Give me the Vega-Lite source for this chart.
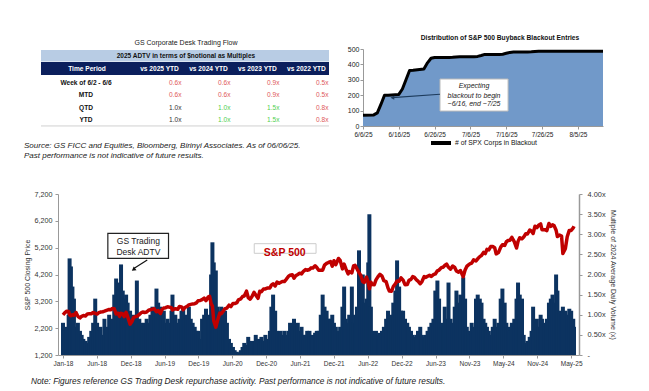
{
  "$schema": "https://vega.github.io/schema/vega-lite/v6.json",
  "background": "white",
  "padding": {"left": 23, "top": 35, "right": 4, "bottom": 2},
  "config": {
    "font": "Liberation Sans",
    "view": {"stroke": null},
    "axis": {"grid": false, "labelColor": "#333333", "titleColor": "#333333", "domainColor": "#999999", "tickColor": "#999999", "titleFontWeight": "normal", "labelFont": "Liberation Sans", "titleFont": "Liberation Sans"},
    "title": {"font": "Liberation Sans", "color": "#111111"},
    "legend": {"labelFont": "Liberation Sans"}
  },
  "bounds": "flush",
  "spacing": 145,
  "vconcat": [
    {
      "bounds": "flush",
      "spacing": 24,
      "hconcat": [
        {
          "width": 281,
          "height": 77,
          "title": {"text": "GS Corporate Desk Trading Flow", "fontSize": 7, "fontWeight": "normal", "frame": "group", "anchor": "middle", "dx": -12.5, "offset": 3, "color": "#222222"},
          "layer": [
            {
              "data": {"values": [{}]},
              "mark": {"type": "rect", "color": "#b8cce4"},
              "encoding": {
                "x": {"datum": -1.388, "type": "quantitative", "scale": {"domain": [-1.041, 4.694], "nice": false, "zero": false}, "axis": null},
                "x2": {"datum": 4.49},
                "y": {"datum": -2.65, "type": "quantitative", "scale": {"domain": [-2.731, 3.454], "nice": false, "zero": false, "reverse": true}, "axis": null},
                "y2": {"datum": -1.72}
              }
            },
            {
              "data": {"values": [{}]},
              "mark": {"type": "rect", "color": "#0b1f5c"},
              "encoding": {
                "x": {"datum": -1.388, "type": "quantitative", "axis": null},
                "x2": {"datum": 4.49},
                "y": {"datum": -1.68, "type": "quantitative", "axis": null},
                "y2": {"datum": -0.64}
              }
            },
            {
              "data": {"values": [{}]},
              "mark": {"type": "rule", "color": "#d0d0d0", "strokeWidth": 1},
              "encoding": {
                "x": {"datum": -1.388, "type": "quantitative", "axis": null},
                "x2": {"datum": 4.49},
                "y": {"datum": 3.45, "type": "quantitative", "axis": null}
              }
            },
            {
              "data": {"values": [{}]},
              "mark": {"type": "text", "fontSize": 6.5, "fontWeight": "bold", "color": "#111111", "baseline": "middle", "align": "center"},
              "encoding": {
                "x": {"datum": 1.57, "type": "quantitative", "axis": null},
                "y": {"datum": -2.2, "type": "quantitative", "axis": null},
                "text": {"value": "2025 ADTV in terms of $notional as Multiples"}
              }
            },
            {
              "data": {"values": [{}]},
              "mark": {"type": "text", "fontSize": 6.6, "fontWeight": "bold", "color": "white", "baseline": "middle", "align": "center"},
              "encoding": {
                "x": {"datum": -0.449, "type": "quantitative", "axis": null},
                "y": {"datum": -1.15, "type": "quantitative", "axis": null},
                "text": {"value": "Time Period"}
              }
            },
            {
              "data": {"values": [
                {"c": 1, "h": "vs 2025 YTD"},
                {"c": 2, "h": "vs 2024 YTD"},
                {"c": 3, "h": "vs 2023 YTD"},
                {"c": 4, "h": "vs 2022 YTD"}
              ]},
              "mark": {"type": "text", "fontSize": 6.6, "fontWeight": "bold", "color": "white", "baseline": "middle", "align": "center", "dx": 1.5},
              "encoding": {
                "x": {"field": "c", "type": "quantitative", "axis": null},
                "y": {"datum": -1.15, "type": "quantitative", "axis": null},
                "text": {"field": "h"}
              }
            },
            {
              "data": {"values": [
                {"r": 0, "t": "Week of 6/2 - 6/6"},
                {"r": 1, "t": "MTD"},
                {"r": 2, "t": "QTD"},
                {"r": 3, "t": "YTD"}
              ]},
              "mark": {"type": "text", "fontSize": 6.6, "fontWeight": "bold", "color": "#111111", "baseline": "middle", "align": "center"},
              "encoding": {
                "x": {"datum": -0.47, "type": "quantitative", "axis": null},
                "y": {"field": "r", "type": "quantitative", "axis": null},
                "text": {"field": "t"}
              }
            },
            {
              "data": {"values": [
                {"r": 0, "c": 1, "v": "0.6x", "s": "down"},
                {"r": 0, "c": 2, "v": "0.6x", "s": "down"},
                {"r": 0, "c": 3, "v": "0.9x", "s": "down"},
                {"r": 0, "c": 4, "v": "0.5x", "s": "down"},
                {"r": 1, "c": 1, "v": "0.6x", "s": "down"},
                {"r": 1, "c": 2, "v": "0.6x", "s": "down"},
                {"r": 1, "c": 3, "v": "0.9x", "s": "down"},
                {"r": 1, "c": 4, "v": "0.5x", "s": "down"},
                {"r": 2, "c": 1, "v": "1.0x", "s": "base"},
                {"r": 2, "c": 2, "v": "1.0x", "s": "up"},
                {"r": 2, "c": 3, "v": "1.5x", "s": "up"},
                {"r": 2, "c": 4, "v": "0.8x", "s": "down"},
                {"r": 3, "c": 1, "v": "1.0x", "s": "base"},
                {"r": 3, "c": 2, "v": "1.0x", "s": "up"},
                {"r": 3, "c": 3, "v": "1.5x", "s": "up"},
                {"r": 3, "c": 4, "v": "0.8x", "s": "down"}
              ]},
              "mark": {"type": "text", "fontSize": 6.6, "baseline": "middle", "align": "right", "dx": 23.5},
              "encoding": {
                "x": {"field": "c", "type": "quantitative", "axis": null},
                "y": {"field": "r", "type": "quantitative", "axis": null},
                "text": {"field": "v"},
                "color": {"field": "s", "type": "nominal", "scale": {"domain": ["base", "up", "down"], "range": ["#333333", "#4fd04f", "#e05a5a"]}, "legend": null}
              }
            },
            {
              "data": {"values": [{}]},
              "mark": {"type": "text", "fontSize": 8, "fontStyle": "italic", "color": "#222222", "align": "left", "baseline": "top", "lineHeight": 10,
                "text": ["Source: GS FICC and Equities, Bloomberg, Birinyi Associates. As of 06/06/25.", "Past performance is not indicative of future results."]},
              "encoding": {
                "x": {"datum": -1.735, "type": "quantitative", "axis": null},
                "y": {"datum": 4.74, "type": "quantitative", "axis": null}
              }
            }
          ]
        },
        {
          "width": 240,
          "height": 77,
          "title": {"text": "Distribution of S&P 500 Buyback Blackout Entries", "fontSize": 6.7, "fontWeight": "bold", "frame": "group", "anchor": "middle", "dx": 17, "offset": 3},
          "data": {"values": [
            {"d": "2025/06/06", "n": 70}, {"d": "2025/06/09", "n": 72}, {"d": "2025/06/10", "n": 85},
            {"d": "2025/06/11", "n": 140}, {"d": "2025/06/12", "n": 200}, {"d": "2025/06/13", "n": 200},
            {"d": "2025/06/16", "n": 205}, {"d": "2025/06/17", "n": 240}, {"d": "2025/06/18", "n": 300},
            {"d": "2025/06/19", "n": 360}, {"d": "2025/06/20", "n": 362}, {"d": "2025/06/23", "n": 370},
            {"d": "2025/06/24", "n": 410}, {"d": "2025/06/25", "n": 440}, {"d": "2025/06/26", "n": 445},
            {"d": "2025/06/27", "n": 445}, {"d": "2025/06/30", "n": 445}, {"d": "2025/07/01", "n": 446},
            {"d": "2025/07/02", "n": 448}, {"d": "2025/07/03", "n": 450}, {"d": "2025/07/07", "n": 450},
            {"d": "2025/07/08", "n": 452}, {"d": "2025/07/09", "n": 458}, {"d": "2025/07/10", "n": 465},
            {"d": "2025/07/11", "n": 465}, {"d": "2025/07/14", "n": 465}, {"d": "2025/07/15", "n": 466},
            {"d": "2025/07/16", "n": 472}, {"d": "2025/07/17", "n": 478}, {"d": "2025/07/18", "n": 480},
            {"d": "2025/07/21", "n": 480}, {"d": "2025/07/22", "n": 481}, {"d": "2025/07/23", "n": 482},
            {"d": "2025/07/24", "n": 484}, {"d": "2025/07/25", "n": 485}, {"d": "2025/07/28", "n": 485},
            {"d": "2025/08/01", "n": 485}, {"d": "2025/08/08", "n": 485}, {"d": "2025/08/12", "n": 485}
          ]},
          "resolve": {"axis": {"x": "independent", "y": "independent"}},
          "layer": [
            {
              "mark": {"type": "area", "color": "#7199c9"},
              "encoding": {
                "x": {"field": "d", "type": "temporal",
                  "scale": {"domain": [{"year": 2025, "month": 6, "date": 6}, {"year": 2025, "month": 8, "date": 12}], "nice": false},
                  "axis": {"values": [{"year": 2025, "month": 6, "date": 6}, {"year": 2025, "month": 6, "date": 16}, {"year": 2025, "month": 6, "date": 26}, {"year": 2025, "month": 7, "date": 6}, {"year": 2025, "month": 7, "date": 16}, {"year": 2025, "month": 7, "date": 26}, {"year": 2025, "month": 8, "date": 5}],
                    "format": "%-m/%-d/%y", "title": null, "labelFontSize": 6.5, "labelColor": "#222222", "tickSize": 3, "labelPadding": 2, "labelFlush": false, "labelOverlap": false}},
                "y": {"field": "n", "type": "quantitative", "scale": {"domain": [0, 500], "nice": false},
                  "axis": {"values": [0, 100, 200, 300, 400, 500], "format": ".0f", "title": null, "labelFontSize": 7, "labelColor": "#222222", "tickSize": 3, "labelPadding": 1, "labelOverlap": false}}
              }
            },
            {
              "mark": {"type": "line", "strokeWidth": 3, "strokeJoin": "round"},
              "encoding": {
                "x": {"field": "d", "type": "temporal", "axis": null},
                "y": {"field": "n", "type": "quantitative", "axis": null},
                "stroke": {"datum": "# of SPX Corps in Blackout", "type": "nominal", "scale": {"range": ["#000000"]},
                  "legend": {"orient": "none", "legendX": 371, "legendY": 82, "title": null, "symbolType": "stroke", "symbolStrokeWidth": 4, "symbolSize": 400, "labelFontSize": 6.8, "labelColor": "#111111", "labelOffset": 2}}
              }
            },
            {
              "data": {"values": [{}]},
              "mark": {"type": "rect", "fill": "white", "stroke": "#bbbbbb", "strokeWidth": 1},
              "encoding": {
                "x": {"datum": {"year": 2025, "month": 6, "date": 27, "hours": 12}, "type": "temporal", "axis": null},
                "x2": {"datum": {"year": 2025, "month": 7, "date": 16, "hours": 12}},
                "y": {"datum": 305, "type": "quantitative", "axis": null},
                "y2": {"datum": 97}
              }
            },
            {
              "data": {"values": [{}]},
              "mark": {"type": "text", "fontSize": 7, "fontStyle": "italic", "color": "#222222", "align": "center", "baseline": "middle"},
              "encoding": {
                "x": {"datum": {"year": 2025, "month": 7, "date": 7}, "type": "temporal", "axis": null},
                "y": {"datum": 260, "type": "quantitative", "axis": null},
                "text": {"value": "Expecting"}
              }
            },
            {
              "data": {"values": [{}]},
              "mark": {"type": "text", "fontSize": 7, "fontStyle": "italic", "color": "#222222", "align": "center", "baseline": "middle"},
              "encoding": {
                "x": {"datum": {"year": 2025, "month": 7, "date": 7}, "type": "temporal", "axis": null},
                "y": {"datum": 198, "type": "quantitative", "axis": null},
                "text": {"value": "blackout to begin"}
              }
            },
            {
              "data": {"values": [{}]},
              "mark": {"type": "text", "fontSize": 7, "fontStyle": "italic", "color": "#222222", "align": "center", "baseline": "middle"},
              "encoding": {
                "x": {"datum": {"year": 2025, "month": 7, "date": 7}, "type": "temporal", "axis": null},
                "y": {"datum": 140, "type": "quantitative", "axis": null},
                "text": {"value": "~6/16, end ~7/25"}
              }
            },
            {
              "data": {"values": [{}]},
              "mark": {"type": "rule", "color": "#1d3b5c", "strokeWidth": 1.1},
              "encoding": {
                "x": {"datum": {"year": 2025, "month": 6, "date": 27, "hours": 12}, "type": "temporal", "axis": null},
                "x2": {"datum": {"year": 2025, "month": 6, "date": 14, "hours": 5}},
                "y": {"datum": 206, "type": "quantitative", "axis": null},
                "y2": {"datum": 184}
              }
            },
            {
              "data": {"values": [{}]},
              "mark": {"type": "point", "shape": "triangle-left", "filled": true, "color": "#1d3b5c", "size": 18, "opacity": 1},
              "encoding": {
                "x": {"datum": {"year": 2025, "month": 6, "date": 14, "hours": 5}, "type": "temporal", "axis": null},
                "y": {"datum": 184, "type": "quantitative", "axis": null}
              }
            }
          ]
        }
      ]
    },
    {
      "width": 521,
      "height": 161,
      "title": {"text": "Note: Figures reference GS Trading Desk repurchase activity. Past performance is not indicative of future results.", "orient": "bottom", "anchor": "start", "frame": "group", "dx": -27, "offset": 10, "fontSize": 8.3, "fontStyle": "italic", "fontWeight": "normal", "color": "#222222"},
      "data": {"values": [
        {"d": "2018/01/02", "p": 2695, "v": 0.8}, {"d": "2018/01/11", "p": 2767, "v": 0.6}, {"d": "2018/01/22", "p": 2833, "v": 0.7},
        {"d": "2018/02/01", "p": 2822, "v": 1.0}, {"d": "2018/02/06", "p": 2695, "v": 2.4}, {"d": "2018/02/13", "p": 2662, "v": 2.2},
        {"d": "2018/02/21", "p": 2701, "v": 1.7}, {"d": "2018/03/01", "p": 2678, "v": 1.4}, {"d": "2018/03/12", "p": 2783, "v": 0.7},
        {"d": "2018/03/22", "p": 2643, "v": 0.8}, {"d": "2018/04/02", "p": 2582, "v": 0.6}, {"d": "2018/04/11", "p": 2642, "v": 0.5},
        {"d": "2018/04/20", "p": 2670, "v": 0.4}, {"d": "2018/05/01", "p": 2655, "v": 0.35}, {"d": "2018/05/11", "p": 2728, "v": 0.3},
        {"d": "2018/05/21", "p": 2733, "v": 0.45}, {"d": "2018/06/01", "p": 2735, "v": 0.6}, {"d": "2018/06/11", "p": 2782, "v": 0.8},
        {"d": "2018/06/22", "p": 2755, "v": 1.4}, {"d": "2018/07/02", "p": 2726, "v": 0.8}, {"d": "2018/07/11", "p": 2775, "v": 0.6},
        {"d": "2018/07/20", "p": 2801, "v": 0.7}, {"d": "2018/08/01", "p": 2813, "v": 0.5}, {"d": "2018/08/10", "p": 2833, "v": 0.9},
        {"d": "2018/08/21", "p": 2863, "v": 0.7}, {"d": "2018/09/04", "p": 2897, "v": 1.0}, {"d": "2018/09/12", "p": 2888, "v": 0.8},
        {"d": "2018/09/21", "p": 2930, "v": 0.9}, {"d": "2018/10/01", "p": 2924, "v": 1.5}, {"d": "2018/10/11", "p": 2729, "v": 1.9},
        {"d": "2018/10/22", "p": 2756, "v": 1.7}, {"d": "2018/10/29", "p": 2641, "v": 1.8}, {"d": "2018/11/06", "p": 2756, "v": 2.25},
        {"d": "2018/11/15", "p": 2730, "v": 1.6}, {"d": "2018/11/23", "p": 2633, "v": 1.4}, {"d": "2018/12/03", "p": 2790, "v": 1.5},
        {"d": "2018/12/11", "p": 2637, "v": 1.3}, {"d": "2018/12/24", "p": 2351, "v": 1.1},
        {"d": "2019/01/03", "p": 2448, "v": 0.9}, {"d": "2019/01/11", "p": 2596, "v": 1.0}, {"d": "2019/01/22", "p": 2633, "v": 0.9},
        {"d": "2019/01/29", "p": 2640, "v": 1.85}, {"d": "2019/02/11", "p": 2709, "v": 0.9}, {"d": "2019/02/21", "p": 2775, "v": 0.8},
        {"d": "2019/03/01", "p": 2804, "v": 0.7}, {"d": "2019/03/11", "p": 2783, "v": 0.8}, {"d": "2019/03/22", "p": 2801, "v": 0.9},
        {"d": "2019/04/01", "p": 2867, "v": 0.8}, {"d": "2019/04/11", "p": 2888, "v": 1.0}, {"d": "2019/04/22", "p": 2908, "v": 1.2},
        {"d": "2019/05/01", "p": 2924, "v": 1.1}, {"d": "2019/05/13", "p": 2812, "v": 1.65}, {"d": "2019/05/22", "p": 2856, "v": 1.3},
        {"d": "2019/06/03", "p": 2744, "v": 1.2}, {"d": "2019/06/11", "p": 2885, "v": 1.0}, {"d": "2019/06/21", "p": 2950, "v": 1.1},
        {"d": "2019/07/01", "p": 2964, "v": 0.8}, {"d": "2019/07/11", "p": 2999, "v": 0.9}, {"d": "2019/07/22", "p": 2985, "v": 0.8},
        {"d": "2019/08/01", "p": 2953, "v": 1.1}, {"d": "2019/08/06", "p": 2881, "v": 1.5}, {"d": "2019/08/21", "p": 2924, "v": 1.0},
        {"d": "2019/09/03", "p": 2906, "v": 0.8}, {"d": "2019/09/12", "p": 3009, "v": 0.9}, {"d": "2019/09/23", "p": 2992, "v": 1.1},
        {"d": "2019/10/02", "p": 2887, "v": 1.2}, {"d": "2019/10/11", "p": 2970, "v": 0.9}, {"d": "2019/10/21", "p": 3006, "v": 1.0},
        {"d": "2019/11/01", "p": 3066, "v": 1.2}, {"d": "2019/11/11", "p": 3087, "v": 0.9}, {"d": "2019/11/21", "p": 3104, "v": 0.8},
        {"d": "2019/12/02", "p": 3113, "v": 0.7}, {"d": "2019/12/11", "p": 3142, "v": 0.6}, {"d": "2019/12/20", "p": 3221, "v": 0.6},
        {"d": "2019/12/31", "p": 3231, "v": 0.4},
        {"d": "2020/01/10", "p": 3265, "v": 0.9}, {"d": "2020/01/21", "p": 3321, "v": 1.0}, {"d": "2020/01/31", "p": 3226, "v": 1.15},
        {"d": "2020/02/11", "p": 3358, "v": 1.0}, {"d": "2020/02/19", "p": 3386, "v": 0.9}, {"d": "2020/02/27", "p": 3116, "v": 2.0},
        {"d": "2020/03/05", "p": 3024, "v": 2.8}, {"d": "2020/03/12", "p": 2481, "v": 2.3}, {"d": "2020/03/23", "p": 2237, "v": 2.1},
        {"d": "2020/04/01", "p": 2471, "v": 1.2}, {"d": "2020/04/13", "p": 2762, "v": 1.1}, {"d": "2020/04/21", "p": 2737, "v": 1.2},
        {"d": "2020/05/01", "p": 2831, "v": 1.0}, {"d": "2020/05/11", "p": 2930, "v": 1.1}, {"d": "2020/05/21", "p": 2949, "v": 0.8},
        {"d": "2020/06/01", "p": 3056, "v": 0.4}, {"d": "2020/06/11", "p": 3002, "v": 0.3}, {"d": "2020/06/22", "p": 3117, "v": 0.2},
        {"d": "2020/07/01", "p": 3116, "v": 0.12}, {"d": "2020/07/13", "p": 3155, "v": 0.08}, {"d": "2020/07/21", "p": 3257, "v": 0.05},
        {"d": "2020/08/03", "p": 3295, "v": 0.12}, {"d": "2020/08/12", "p": 3380, "v": 0.2}, {"d": "2020/08/21", "p": 3397, "v": 0.3},
        {"d": "2020/09/02", "p": 3580, "v": 0.25}, {"d": "2020/09/11", "p": 3341, "v": 0.45}, {"d": "2020/09/21", "p": 3281, "v": 0.3},
        {"d": "2020/10/01", "p": 3380, "v": 0.35}, {"d": "2020/10/12", "p": 3534, "v": 0.3}, {"d": "2020/10/21", "p": 3435, "v": 0.5},
        {"d": "2020/11/02", "p": 3310, "v": 0.4}, {"d": "2020/11/11", "p": 3573, "v": 0.3}, {"d": "2020/11/20", "p": 3558, "v": 0.45},
        {"d": "2020/12/01", "p": 3662, "v": 0.35}, {"d": "2020/12/11", "p": 3663, "v": 0.5}, {"d": "2020/12/21", "p": 3694, "v": 0.4},
        {"d": "2021/01/04", "p": 3700, "v": 0.6}, {"d": "2021/01/12", "p": 3801, "v": 1.2}, {"d": "2021/01/21", "p": 3853, "v": 1.5},
        {"d": "2021/02/01", "p": 3774, "v": 1.1}, {"d": "2021/02/11", "p": 3916, "v": 0.6}, {"d": "2021/02/22", "p": 3876, "v": 0.55},
        {"d": "2021/03/01", "p": 3901, "v": 0.6}, {"d": "2021/03/11", "p": 3939, "v": 0.5}, {"d": "2021/03/22", "p": 3940, "v": 0.6},
        {"d": "2021/04/01", "p": 4020, "v": 0.5}, {"d": "2021/04/12", "p": 4128, "v": 0.6}, {"d": "2021/04/21", "p": 4173, "v": 0.8},
        {"d": "2021/05/03", "p": 4192, "v": 0.7}, {"d": "2021/05/12", "p": 4063, "v": 0.9}, {"d": "2021/05/21", "p": 4156, "v": 0.7},
        {"d": "2021/06/01", "p": 4202, "v": 0.8}, {"d": "2021/06/11", "p": 4247, "v": 0.6}, {"d": "2021/06/21", "p": 4224, "v": 0.7},
        {"d": "2021/07/01", "p": 4320, "v": 0.5}, {"d": "2021/07/12", "p": 4384, "v": 0.5}, {"d": "2021/07/21", "p": 4359, "v": 0.6},
        {"d": "2021/08/02", "p": 4387, "v": 0.6}, {"d": "2021/08/11", "p": 4447, "v": 0.45}, {"d": "2021/08/20", "p": 4441, "v": 0.5},
        {"d": "2021/09/01", "p": 4524, "v": 0.55}, {"d": "2021/09/10", "p": 4458, "v": 0.6}, {"d": "2021/09/20", "p": 4358, "v": 0.6},
        {"d": "2021/10/01", "p": 4357, "v": 1.0}, {"d": "2021/10/11", "p": 4361, "v": 1.5}, {"d": "2021/10/21", "p": 4549, "v": 1.2},
        {"d": "2021/11/01", "p": 4614, "v": 1.1}, {"d": "2021/11/11", "p": 4649, "v": 0.9}, {"d": "2021/11/22", "p": 4682, "v": 0.9},
        {"d": "2021/12/01", "p": 4513, "v": 1.0}, {"d": "2021/12/10", "p": 4712, "v": 0.8}, {"d": "2021/12/20", "p": 4568, "v": 0.7},
        {"d": "2022/01/03", "p": 4797, "v": 0.6}, {"d": "2022/01/12", "p": 4726, "v": 0.7}, {"d": "2022/01/24", "p": 4410, "v": 1.2},
        {"d": "2022/02/02", "p": 4589, "v": 1.7}, {"d": "2022/02/11", "p": 4419, "v": 0.9}, {"d": "2022/02/23", "p": 4225, "v": 0.8},
        {"d": "2022/03/01", "p": 4306, "v": 1.0}, {"d": "2022/03/15", "p": 4262, "v": 1.7}, {"d": "2022/03/24", "p": 4520, "v": 0.8},
        {"d": "2022/04/01", "p": 4546, "v": 1.0}, {"d": "2022/04/11", "p": 4413, "v": 1.2}, {"d": "2022/04/22", "p": 4272, "v": 2.6},
        {"d": "2022/05/02", "p": 4155, "v": 1.5}, {"d": "2022/05/12", "p": 3930, "v": 2.0}, {"d": "2022/05/20", "p": 3901, "v": 1.3},
        {"d": "2022/06/01", "p": 4101, "v": 1.4}, {"d": "2022/06/10", "p": 3901, "v": 2.3}, {"d": "2022/06/16", "p": 3667, "v": 3.5},
        {"d": "2022/06/24", "p": 3912, "v": 1.2}, {"d": "2022/07/01", "p": 3825, "v": 0.6}, {"d": "2022/07/12", "p": 3819, "v": 0.5},
        {"d": "2022/07/21", "p": 3999, "v": 0.6}, {"d": "2022/08/01", "p": 4119, "v": 0.5}, {"d": "2022/08/11", "p": 4207, "v": 0.55},
        {"d": "2022/08/22", "p": 4138, "v": 0.6}, {"d": "2022/09/01", "p": 3967, "v": 0.7}, {"d": "2022/09/13", "p": 3933, "v": 0.9},
        {"d": "2022/09/23", "p": 3693, "v": 1.1}, {"d": "2022/09/30", "p": 3586, "v": 0.9}, {"d": "2022/10/12", "p": 3577, "v": 1.0},
        {"d": "2022/10/21", "p": 3753, "v": 1.3}, {"d": "2022/11/01", "p": 3856, "v": 1.6}, {"d": "2022/11/10", "p": 3956, "v": 2.35},
        {"d": "2022/11/21", "p": 3950, "v": 1.7}, {"d": "2022/12/01", "p": 4077, "v": 1.1}, {"d": "2022/12/12", "p": 3990, "v": 1.1},
        {"d": "2022/12/22", "p": 3822, "v": 0.9},
        {"d": "2023/01/03", "p": 3825, "v": 0.8}, {"d": "2023/01/12", "p": 3983, "v": 0.7}, {"d": "2023/01/23", "p": 4020, "v": 0.6},
        {"d": "2023/02/01", "p": 4119, "v": 0.5}, {"d": "2023/02/10", "p": 4090, "v": 0.45}, {"d": "2023/02/21", "p": 3997, "v": 0.5},
        {"d": "2023/03/01", "p": 3951, "v": 0.6}, {"d": "2023/03/13", "p": 3855, "v": 0.7}, {"d": "2023/03/22", "p": 3937, "v": 0.5},
        {"d": "2023/04/03", "p": 4124, "v": 0.45}, {"d": "2023/04/12", "p": 4092, "v": 0.5}, {"d": "2023/04/21", "p": 4133, "v": 0.6},
        {"d": "2023/05/01", "p": 4168, "v": 0.7}, {"d": "2023/05/11", "p": 4130, "v": 0.8}, {"d": "2023/05/22", "p": 4192, "v": 0.9},
        {"d": "2023/06/01", "p": 4221, "v": 1.6}, {"d": "2023/06/12", "p": 4338, "v": 1.85}, {"d": "2023/06/21", "p": 4366, "v": 1.4},
        {"d": "2023/07/03", "p": 4455, "v": 0.8}, {"d": "2023/07/12", "p": 4472, "v": 0.7}, {"d": "2023/07/21", "p": 4536, "v": 1.2},
        {"d": "2023/07/31", "p": 4589, "v": 0.9}, {"d": "2023/08/10", "p": 4468, "v": 1.8}, {"d": "2023/08/21", "p": 4399, "v": 0.9},
        {"d": "2023/09/01", "p": 4516, "v": 0.8}, {"d": "2023/09/12", "p": 4462, "v": 1.2}, {"d": "2023/09/21", "p": 4330, "v": 1.6},
        {"d": "2023/10/02", "p": 4288, "v": 1.3}, {"d": "2023/10/12", "p": 4349, "v": 1.5}, {"d": "2023/10/27", "p": 4117, "v": 1.93},
        {"d": "2023/11/06", "p": 4365, "v": 1.4}, {"d": "2023/11/15", "p": 4502, "v": 0.7}, {"d": "2023/11/24", "p": 4559, "v": 0.6},
        {"d": "2023/12/01", "p": 4594, "v": 0.5}, {"d": "2023/12/11", "p": 4622, "v": 0.8}, {"d": "2023/12/21", "p": 4746, "v": 0.7},
        {"d": "2024/01/03", "p": 4705, "v": 1.4}, {"d": "2024/01/12", "p": 4784, "v": 1.5}, {"d": "2024/01/23", "p": 4865, "v": 1.4},
        {"d": "2024/02/01", "p": 4906, "v": 1.3}, {"d": "2024/02/12", "p": 5022, "v": 0.9}, {"d": "2024/02/21", "p": 4981, "v": 0.8},
        {"d": "2024/03/01", "p": 5137, "v": 0.7}, {"d": "2024/03/11", "p": 5118, "v": 0.6}, {"d": "2024/03/21", "p": 5241, "v": 0.5},
        {"d": "2024/04/01", "p": 5243, "v": 0.7}, {"d": "2024/04/11", "p": 5199, "v": 0.9}, {"d": "2024/04/19", "p": 4967, "v": 0.7},
        {"d": "2024/05/01", "p": 5018, "v": 0.8}, {"d": "2024/05/13", "p": 5221, "v": 1.4}, {"d": "2024/05/22", "p": 5307, "v": 1.65},
        {"d": "2024/06/03", "p": 5283, "v": 1.3}, {"d": "2024/06/12", "p": 5421, "v": 0.8}, {"d": "2024/06/21", "p": 5465, "v": 0.7},
        {"d": "2024/07/01", "p": 5475, "v": 0.6}, {"d": "2024/07/11", "p": 5585, "v": 0.8}, {"d": "2024/07/24", "p": 5427, "v": 0.9},
        {"d": "2024/08/05", "p": 5186, "v": 1.4}, {"d": "2024/08/13", "p": 5434, "v": 1.8}, {"d": "2024/08/22", "p": 5571, "v": 1.5},
        {"d": "2024/09/03", "p": 5529, "v": 1.4}, {"d": "2024/09/12", "p": 5595, "v": 0.5}, {"d": "2024/09/23", "p": 5718, "v": 0.3},
        {"d": "2024/10/02", "p": 5709, "v": 0.35}, {"d": "2024/10/14", "p": 5859, "v": 0.45}, {"d": "2024/10/24", "p": 5810, "v": 0.6},
        {"d": "2024/11/01", "p": 5728, "v": 1.2}, {"d": "2024/11/11", "p": 6001, "v": 0.8}, {"d": "2024/11/21", "p": 5949, "v": 0.9},
        {"d": "2024/12/02", "p": 6047, "v": 0.7}, {"d": "2024/12/11", "p": 6084, "v": 1.0}, {"d": "2024/12/18", "p": 5872, "v": 0.9},
        {"d": "2025/01/02", "p": 5869, "v": 0.8}, {"d": "2025/01/13", "p": 5836, "v": 0.9}, {"d": "2025/01/24", "p": 6101, "v": 1.3},
        {"d": "2025/02/03", "p": 5994, "v": 1.4}, {"d": "2025/02/12", "p": 6051, "v": 1.5}, {"d": "2025/02/21", "p": 6013, "v": 1.3},
        {"d": "2025/03/03", "p": 5849, "v": 2.0}, {"d": "2025/03/10", "p": 5615, "v": 1.6}, {"d": "2025/03/21", "p": 5668, "v": 1.1},
        {"d": "2025/04/01", "p": 5633, "v": 1.0}, {"d": "2025/04/08", "p": 4982, "v": 1.2}, {"d": "2025/04/21", "p": 5158, "v": 1.1},
        {"d": "2025/05/01", "p": 5604, "v": 1.0}, {"d": "2025/05/12", "p": 5844, "v": 1.15}, {"d": "2025/05/22", "p": 5842, "v": 1.1},
        {"d": "2025/06/02", "p": 5936, "v": 0.9}, {"d": "2025/06/06", "p": 6000, "v": 0.7}
      ]},
      "resolve": {"scale": {"y": "independent"}, "axis": {"x": "independent", "y": "independent"}},
      "layer": [
        {
          "mark": {"type": "bar", "size": 4, "color": "#0c3360"},
          "encoding": {
            "x": {"field": "d", "type": "temporal",
              "scale": {"domain": [{"year": 2018, "month": 1, "date": 2}, {"year": 2025, "month": 6, "date": 6}], "nice": false},
              "axis": {"values": [
                {"year": 2018, "month": 1, "date": 2}, {"year": 2018, "month": 6, "date": 30}, {"year": 2018, "month": 12, "date": 27},
                {"year": 2019, "month": 6, "date": 25}, {"year": 2019, "month": 12, "date": 21}, {"year": 2020, "month": 6, "date": 18},
                {"year": 2020, "month": 12, "date": 15}, {"year": 2021, "month": 6, "date": 13}, {"year": 2021, "month": 12, "date": 9},
                {"year": 2022, "month": 6, "date": 7}, {"year": 2022, "month": 12, "date": 4}, {"year": 2023, "month": 6, "date": 2},
                {"year": 2023, "month": 11, "date": 29}, {"year": 2024, "month": 5, "date": 27}, {"year": 2024, "month": 11, "date": 23},
                {"year": 2025, "month": 5, "date": 22}],
                "format": "%b-%y", "title": null, "labelFontSize": 6.5, "tickSize": 3, "labelPadding": 2, "labelFlush": false, "labelOverlap": false}},
            "y": {"field": "v", "type": "quantitative", "scale": {"domain": [0, 4], "nice": false},
              "axis": {"orient": "right", "values": [0, 0.5, 1, 1.5, 2, 2.5, 3, 3.5, 4],
                "labelExpr": "datum.value == 0 ? '-' : format(datum.value, '.2f') + 'x'",
                "title": "Multiple of 2024 Average Daily Volume (x)", "titleFontSize": 7, "labelFontSize": 7.4,
                "tickSize": 3, "labelPadding": 5, "titlePadding": 4, "domainWidth": 1.5, "labelOverlap": false}}
          }
        },
        {
          "resolve": {"axis": {"x": "independent", "y": "independent"}},
          "layer": [
            {
              "mark": {"type": "line", "color": "#c00000", "strokeWidth": 3.5, "strokeJoin": "round"},
              "encoding": {
                "x": {"field": "d", "type": "temporal", "axis": null},
                "y": {"field": "p", "type": "quantitative", "scale": {"domain": [1200, 7200], "nice": false, "zero": false},
                  "axis": {"orient": "left", "values": [1200, 2200, 3200, 4200, 5200, 6200, 7200],
                    "labelExpr": "format(datum.value, ',.0f')",
                    "title": "S&P 500 Closing Price", "titleFontSize": 7, "labelFontSize": 7.2, "tickSize": 3, "labelPadding": 3, "titlePadding": 3.5, "labelOverlap": false}}
              }
            },
            {
              "data": {"values": [{}]},
              "mark": {"type": "rect", "fill": "white", "stroke": "#222222", "strokeWidth": 1.2},
              "encoding": {
                "x": {"datum": {"year": 2018, "month": 8, "date": 28}, "type": "temporal", "axis": null},
                "x2": {"datum": {"year": 2019, "month": 7, "date": 16}},
                "y": {"datum": 5735, "type": "quantitative", "axis": null},
                "y2": {"datum": 4804}
              }
            },
            {
              "data": {"values": [{}]},
              "mark": {"type": "text", "fontSize": 8.5, "color": "#222222", "align": "center", "baseline": "middle"},
              "encoding": {
                "x": {"datum": {"year": 2019, "month": 2, "date": 6}, "type": "temporal", "axis": null},
                "y": {"datum": 5430, "type": "quantitative", "axis": null},
                "text": {"value": "GS Trading"}
              }
            },
            {
              "data": {"values": [{}]},
              "mark": {"type": "text", "fontSize": 8.5, "color": "#222222", "align": "center", "baseline": "middle"},
              "encoding": {
                "x": {"datum": {"year": 2019, "month": 2, "date": 6}, "type": "temporal", "axis": null},
                "y": {"datum": 5039, "type": "quantitative", "axis": null},
                "text": {"value": "Desk ADTV"}
              }
            },
            {
              "data": {"values": [{}]},
              "mark": {"type": "rule", "color": "#111111", "strokeWidth": 1.2},
              "encoding": {
                "x": {"datum": {"year": 2019, "month": 3, "date": 25}, "type": "temporal", "axis": null},
                "x2": {"datum": {"year": 2019, "month": 1, "date": 13}},
                "y": {"datum": 4741, "type": "quantitative", "axis": null},
                "y2": {"datum": 4420}
              }
            },
            {
              "data": {"values": [{}]},
              "mark": {"type": "point", "shape": "triangle-up", "filled": true, "color": "#111111", "size": 22, "angle": 234, "opacity": 1},
              "encoding": {
                "x": {"datum": {"year": 2019, "month": 1, "date": 11}, "type": "temporal", "axis": null},
                "y": {"datum": 4380, "type": "quantitative", "axis": null}
              }
            },
            {
              "data": {"values": [{}]},
              "mark": {"type": "rect", "fill": "white", "stroke": "#cccccc", "strokeWidth": 1},
              "encoding": {
                "x": {"datum": {"year": 2020, "month": 10, "date": 13}, "type": "temporal", "axis": null},
                "x2": {"datum": {"year": 2021, "month": 9, "date": 6}},
                "y": {"datum": 5348, "type": "quantitative", "axis": null},
                "y2": {"datum": 4990}
              }
            },
            {
              "data": {"values": [{}]},
              "mark": {"type": "text", "fontSize": 10.5, "fontWeight": "bold", "color": "#c00000", "align": "center", "baseline": "middle"},
              "encoding": {
                "x": {"datum": {"year": 2021, "month": 3, "date": 24}, "type": "temporal", "axis": null},
                "y": {"datum": 4983, "type": "quantitative", "axis": null},
                "text": {"value": "S&P 500"}
              }
            }
          ]
        }
      ]
    }
  ]
}
